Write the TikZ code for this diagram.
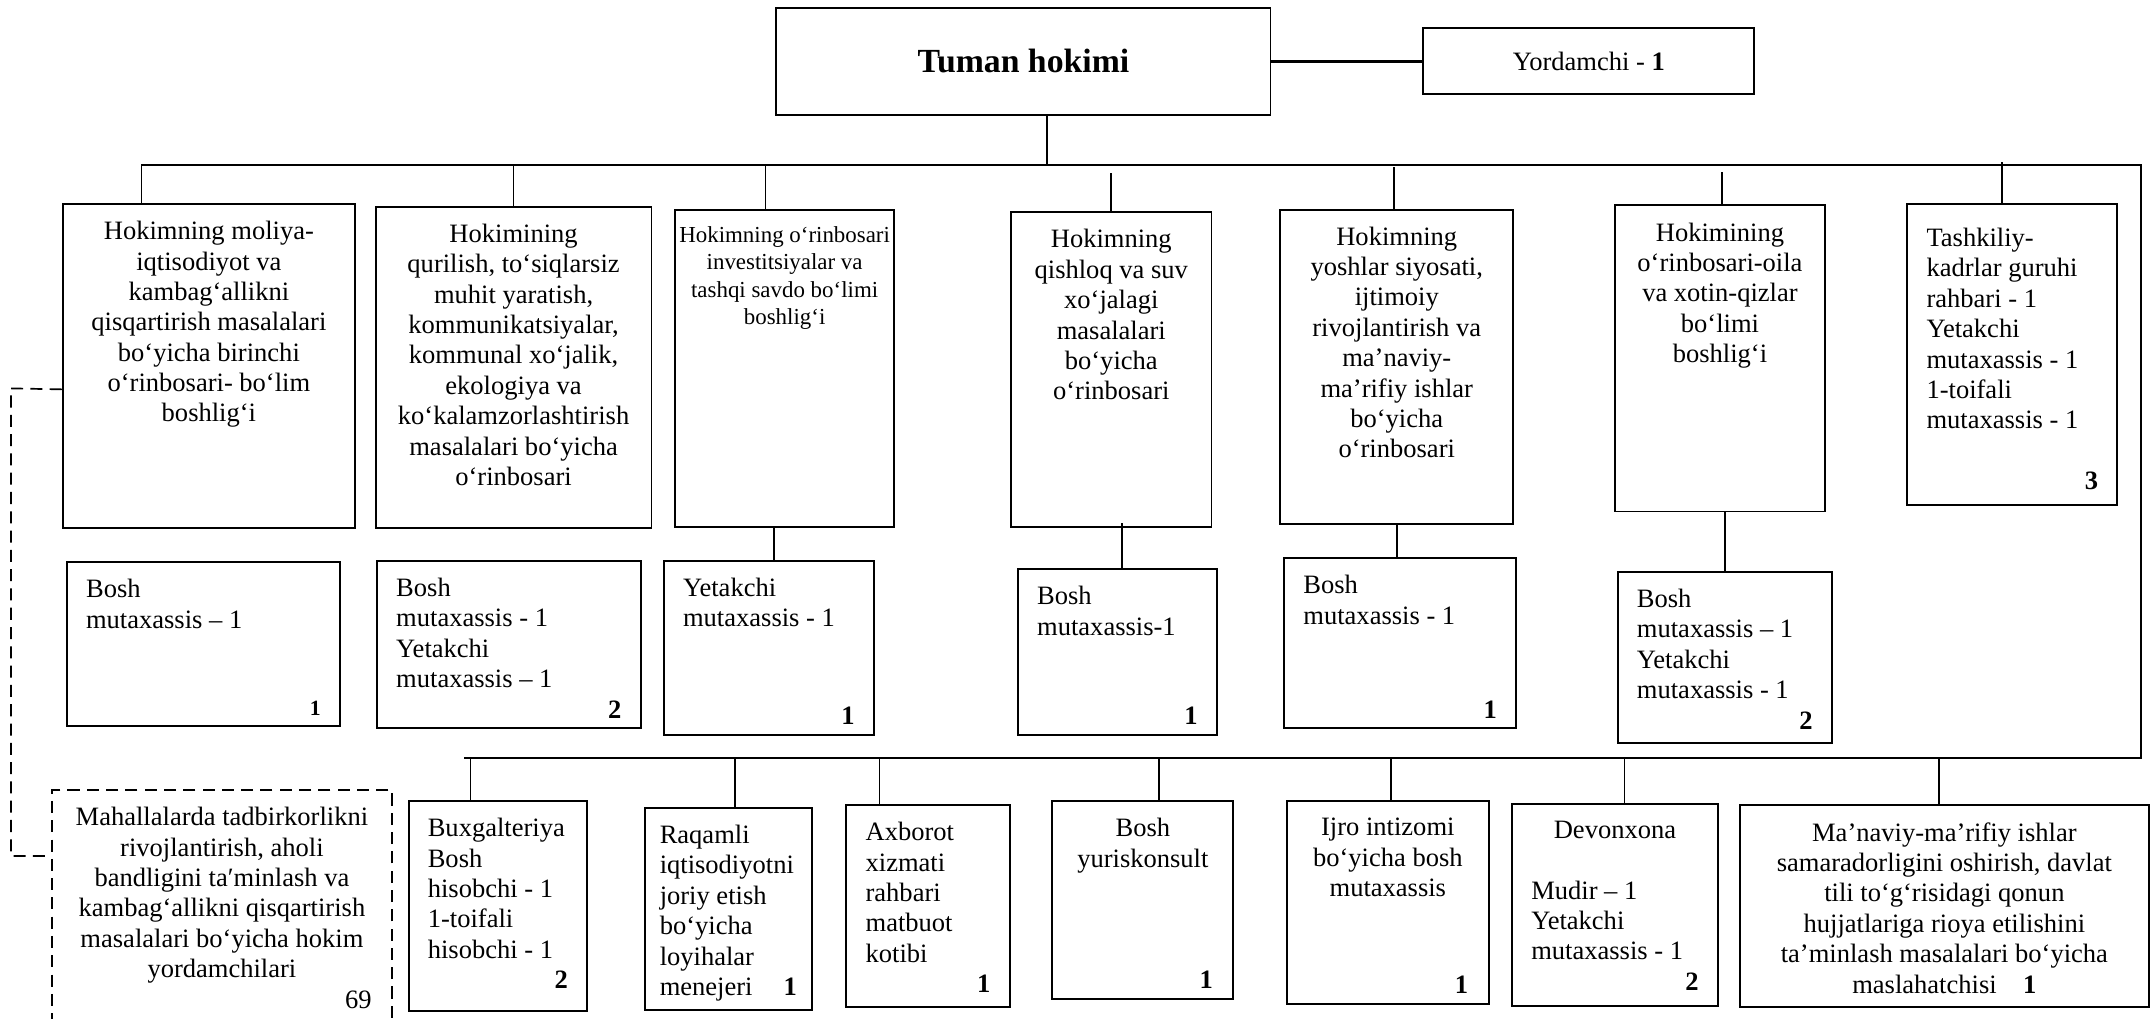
\documentclass[tikz,border=0pt]{standalone}
\usepackage{fontspec}
\setmainfont{Liberation Serif}
\usetikzlibrary{positioning}

% text blocks inside the boxes: top aligned, fixed size
\newcommand{\lcellbox}[3]{\parbox[t][\dimexpr#2-0.3cm\relax][t]{\dimexpr#1-0.56cm\relax}{\raggedright\vspace*{0.1cm}#3}}
\newcommand{\ccellbox}[3]{\parbox[t][\dimexpr#2-0.3cm\relax][t]{\dimexpr#1-0.1cm\relax}{\centering\vspace*{0.1cm}#3}}

\begin{document}
\begin{tikzpicture}[x=0.2mm,y=-0.2mm,
    cell/.style={draw,line width=0.8pt,anchor=north west,inner ysep=0.15cm,font=\fontsize{11}{12.6}\selectfont},
    lcell/.style={cell,inner xsep=0.28cm},
    ccell/.style={cell,inner xsep=0.05cm},
    conn/.style={line width=0.7pt},
    dconn/.style={line width=0.7pt,dash pattern=on 5pt off 3pt}]
    \useasboundingbox (0,0) rectangle (1568,742);

    % head
    \node[draw,line width=0.8pt,anchor=north west,minimum width=7.2cm,minimum height=1.56cm,font=\fontsize{14}{16}\selectfont\bfseries] (hokim) at (565,5) {Tuman hokimi};
    \node[draw,line width=0.8pt,minimum width=4.82cm,minimum height=0.96cm,font=\fontsize{11}{13}\selectfont] (yordam) [right=2.2cm of hokim] {Yordamchi - \textbf{1}};
    \draw[line width=1pt] (hokim) -- (yordam);

    % deputies
    \node[ccell] (moliya) at (45,148) {\ccellbox{4.26cm}{4.72cm}{Hokimning moliya-\\ iqtisodiyot va\\ kambag‘allikni\\ qisqartirish masalalari\\ bo‘yicha birinchi\\ o‘rinbosari- bo‘lim\\ boshlig‘i}};
    \node[ccell] (qurilish) at (273,150) {\ccellbox{4.02cm}{4.68cm}{Hokimining\\ qurilish, to‘siqlarsiz\\ muhit yaratish,\\ kommunikatsiyalar,\\ kommunal xo‘jalik,\\ ekologiya va\\ ko‘kalamzorlashtirish\\ masalalari bo‘yicha\\ o‘rinbosari}};
    \node[ccell,inner xsep=0pt,font=\fontsize{9.5}{11.3}\selectfont] (invest) at (491,152) {\ccellbox{3.3cm}{4.62cm}{Hokimning o‘rinbosari\\ investitsiyalar va\\ tashqi savdo bo‘limi\\ boshlig‘i}};
    \node[ccell] (qishloq) at (736,154) {\ccellbox{2.92cm}{4.58cm}{Hokimning\\ qishloq va suv\\ xo‘jalagi\\ masalalari\\ bo‘yicha\\ o‘rinbosari}};
    \node[ccell] (yoshlar) at (932,152) {\ccellbox{3.4cm}{4.58cm}{Hokimning\\ yoshlar siyosati,\\ ijtimoiy\\ rivojlantirish va\\ ma’naviy-\\ ma’rifiy ishlar\\ bo‘yicha\\ o‘rinbosari}};
    \node[ccell] (oila) at (1176,149) {\ccellbox{3.06cm}{4.46cm}{Hokimining\\ o‘rinbosari-oila\\ va xotin-qizlar\\ bo‘limi\\ boshlig‘i}};
    \node[lcell] (kadr) at (1389,148) {\lcellbox{3.06cm}{4.38cm}{\vspace*{0.1cm}Tashkiliy-\\ kadrlar guruhi\\ rahbari - 1\\ Yetakchi\\ mutaxassis - 1\\ 1-toifali\\ mutaxassis - 1\\[12.6pt]\hspace*{\fill}\textbf{3}}};

    % staff of the deputies
    \node[lcell] (moliyaS) at (48,409) {\lcellbox{3.98cm}{2.38cm}{Bosh\\ mutaxassis – 1\par\vfill\hspace*{\fill}{\small\bfseries 1}}};
    \node[lcell] (qurilishS) at (274,408) {\lcellbox{3.84cm}{2.44cm}{Bosh\\ mutaxassis - 1\\ Yetakchi\\ mutaxassis – 1\par\vfill\hspace*{\fill}\textbf{2}}};
    \node[lcell] (investS) at (483,408) {\lcellbox{3.06cm}{2.54cm}{Yetakchi\\ mutaxassis - 1\par\vfill\hspace*{\fill}\textbf{1}}};
    \node[lcell] (qishloqS) at (741,414) {\lcellbox{2.9cm}{2.42cm}{Bosh\\ mutaxassis-1\par\vfill\hspace*{\fill}\textbf{1}}};
    \node[lcell] (yoshlarS) at (935,406) {\lcellbox{3.38cm}{2.48cm}{Bosh\\ mutaxassis - 1\par\vfill\hspace*{\fill}\textbf{1}}};
    \node[lcell] (oilaS) at (1178,416) {\lcellbox{3.12cm}{2.5cm}{Bosh\\ mutaxassis – 1\\ Yetakchi\\ mutaxassis - 1\\ \hspace*{\fill}\textbf{2}}};

    % apparatus
    \node[ccell,dash pattern=on 5pt off 3pt] (mahalla) at (37,575) {\ccellbox{4.96cm}{3.7cm}{Mahallalarda tadbirkorlikni\\ rivojlantirish, aholi\\ bandligini ta′minlash va\\ kambag‘allikni qisqartirish\\ masalalari bo‘yicha hokim\\ yordamchilari\\ \hspace*{\fill}69\kern0.25cm}};
    \node[lcell] (buxg) at (297,583) {\lcellbox{2.6cm}{3.06cm}{Buxgalteriya\\ Bosh\\ hisobchi - 1\\ 1-toifali\\ hisobchi - 1\\ \hspace*{\fill}\textbf{2}}};
    \node[lcell,inner xsep=0.22cm] (raqam) at (469,588) {\lcellbox{2.56cm}{2.94cm}{Raqamli\\ iqtisodiyotni\\ joriy etish\\ bo‘yicha\\ loyihalar\\ menejeri\hspace*{\fill}\textbf{1}}};
    \node[lcell] (axborot) at (616,586) {\lcellbox{2.38cm}{2.94cm}{Axborot\\ xizmati\\ rahbari\\ matbuot\\ kotibi\\ \hspace*{\fill}\textbf{1}}};
    \node[ccell] (yurist) at (766,583) {\ccellbox{2.64cm}{2.88cm}{Bosh\\ yuriskonsult\par\vfill\hspace*{\fill}\textbf{1}\kern0.25cm}};
    \node[ccell] (ijro) at (937,583) {\ccellbox{2.94cm}{2.96cm}{Ijro intizomi\\ bo‘yicha bosh\\ mutaxassis\par\vfill\hspace*{\fill}\textbf{1}\kern0.25cm}};
    \node[lcell] (devon) at (1101,585) {\lcellbox{3.0cm}{2.94cm}{{\centering Devonxona\par}\vspace{12.6pt}Mudir – 1\\ Yetakchi\\ mutaxassis - 1\\ \hspace*{\fill}\textbf{2}}};
    \node[ccell] (manaviy) at (1267,586) {\ccellbox{5.96cm}{2.94cm}{Ma’naviy-ma’rifiy ishlar\\ samaradorligini oshirish, davlat\\ tili to‘g‘risidagi qonun\\ hujjatlariga rioya etilishini\\ ta’minlash masalalari bo‘yicha\\ maslahatchisi\quad\textbf{1}}};

    % buses
    \coordinate (busL) at (103,120);
    \coordinate (busR) at (1560,120);
    \coordinate (lowR) at (1560,552);
    \coordinate (lowL) at (338,552);
    \coordinate (dashL) at (8,283);
    \draw[conn] ([xshift=0.34cm]hokim.south) -- ([xshift=0.34cm]hokim.south |- busL);
    \draw[line width=0.9pt] (busL) -- (busR) -- (lowR) -- (lowL);

    \draw[conn] (busL) -- (busL |- moliya.north);
    \draw[conn] (qurilish.north) -- (qurilish.north |- busL);
    \draw[conn] ([xshift=-0.28cm]invest.north) -- ([xshift=-0.28cm]invest.north |- busL);
    \draw[conn] (qishloq.north) -- ([yshift=-0.12cm]qishloq.north |- busL);
    \draw[conn] ([xshift=-0.04cm]yoshlar.north) -- ([xshift=-0.04cm,yshift=-0.04cm]yoshlar.north |- busL);
    \draw[conn] ([xshift=0.03cm]oila.north) -- ([xshift=0.03cm,yshift=-0.1cm]oila.north |- busL);
    \draw[conn] ([xshift=-0.15cm]kadr.north) -- ([xshift=-0.15cm,yshift=0.04cm]kadr.north |- busL);

    \draw[conn] ([xshift=-0.16cm]invest.south) -- ([xshift=-0.16cm]invest.south |- investS.north);
    \draw[conn] ([xshift=0.16cm,yshift=0.06cm]qishloq.south) -- ([xshift=0.16cm]qishloq.south |- qishloqS.north);
    \draw[conn] (yoshlar.south) -- (yoshlar.south |- yoshlarS.north);
    \draw[conn] ([xshift=0.07cm]oila.south) -- ([xshift=0.07cm]oila.south |- oilaS.north);

    \draw[conn] ([xshift=-0.4cm]buxg.north) -- ([xshift=-0.4cm]buxg.north |- lowL);
    \draw[conn] ([xshift=0.1cm]raqam.north) -- ([xshift=0.1cm]raqam.north |- lowL);
    \draw[conn] ([xshift=-0.71cm]axborot.north) -- ([xshift=-0.71cm]axborot.north |- lowL);
    \draw[conn] ([xshift=0.24cm]yurist.north) -- ([xshift=0.24cm]yurist.north |- lowL);
    \draw[conn] ([xshift=0.05cm]ijro.north) -- ([xshift=0.05cm]ijro.north |- lowL);
    \draw[conn] ([xshift=0.14cm]devon.north) -- ([xshift=0.14cm]devon.north |- lowL);
    \draw[conn] ([xshift=-0.08cm]manaviy.north) -- ([xshift=-0.08cm]manaviy.north |- lowL);

    % link to the assistants
    \draw[dconn] ([yshift=-0.34cm]moliya.west) -- (dashL) |- ([yshift=0.89cm]mahalla.west);
\end{tikzpicture}
\end{document}
